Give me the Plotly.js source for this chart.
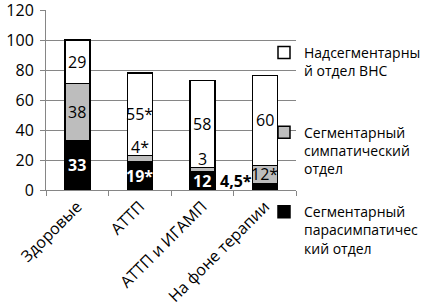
<!DOCTYPE html>
<html>
<head>
<meta charset="utf-8">
<script src="https://cdn.plot.ly/plotly-3.0.1.min.js"></script>
<style>html,body{margin:0;padding:0;background:#fff;}#chart{width:423px;height:308px;}</style>
</head>
<body>
<div id="chart"></div>
<script>
const categories = ['Здоровые', 'АТТП', 'АТТП и ИГАМП', 'На фоне терапии'];
const paraValues = [33, 19, 12, 4.5];
const sympValues = [38, 4, 3, 12];
const supraValues = [29, 55, 58, 60];
const paraLabels = ['33', '19*', '12', '4,5*'];
const sympLabels = ['38', '4*', '3', '12*'];
const supraLabels = ['29', '55*', '58', '60'];
const seriesNames = ['Сегментарный<br>парасимпатичес<br>кий отдел', 'Сегментарный<br>симпатический<br>отдел', 'Надсегментарны<br>й отдел ВНС<br> '];
const yTicks = [0, 20, 40, 60, 80, 100, 120];

const FONT = 'Open Sans, Noto Sans, sans-serif';
const outline = {color: '#000', width: 1.5};

const traces = [
  {type: 'bar', x: categories, y: paraValues, name: seriesNames[0], marker: {color: '#000000', line: outline}, legendrank: 3, legendgroup: 'a', hoverinfo: 'none'},
  {type: 'bar', x: categories, y: sympValues, name: seriesNames[1], marker: {color: '#BDBDBD', line: outline}, legendrank: 2, legendgroup: 'b', hoverinfo: 'none'},
  {type: 'bar', x: categories, y: supraValues, name: seriesNames[2], marker: {color: '#FFFFFF', line: outline}, legendrank: 1, legendgroup: 'c', hoverinfo: 'none'}
];

const LBL = 16;
const annotations = [];
categories.forEach((c, i) => {
  const p = paraValues[i], s = sympValues[i], u = supraValues[i];
  if (p >= 8) {
    annotations.push({x: c, y: p / 2, text: '<b>' + paraLabels[i] + '</b>', showarrow: false, font: {family: FONT, size: LBL, color: '#fff'}});
  } else {
    annotations.push({x: c, y: p, text: '<b>' + paraLabels[i] + '</b>', showarrow: false, xanchor: 'right', xshift: -11, yshift: 2, font: {family: FONT, size: LBL, color: '#000'}});
  }
  if (s >= 8) {
    annotations.push({x: c, y: p + s / 2, text: sympLabels[i], showarrow: false, font: {family: FONT, size: LBL, color: '#000'}});
  } else {
    annotations.push({x: c, y: p + s, text: sympLabels[i], showarrow: false, yanchor: 'bottom', yshift: -4, font: {family: FONT, size: LBL, color: '#000'}});
  }
  annotations.push({x: c, y: p + s + u / 2, text: supraLabels[i], showarrow: false, font: {family: FONT, size: LBL, color: '#000'}});
});

const layout = {
  width: 423, height: 308,
  margin: {l: 46, r: 127, t: 10, b: 118, autoexpand: false},
  paper_bgcolor: '#fff', plot_bgcolor: '#fff',
  barmode: 'stack', bargap: 0.6,
  font: {family: FONT, size: 16, color: '#000'},
  showlegend: true,
  legend: {x: 0.872, y: 0.85, xanchor: 'left', yanchor: 'top', bgcolor: 'rgba(255,255,255,0)', font: {family: FONT, size: 14, color: '#000'}, traceorder: 'grouped', tracegroupgap: 22, valign: 'top', itemwidth: 30, maxheight: 300},
  xaxis: {type: 'category', tickson: 'boundaries', ticks: 'outside', ticklen: 5, tickcolor: '#868686', showline: true, linecolor: '#868686', linewidth: 1, tickangle: -45, showgrid: false, tickfont: {family: FONT, size: 16}, fixedrange: true},
  yaxis: {range: [0, 120], tickvals: yTicks, ticks: 'outside', ticklen: 5, tickcolor: '#868686', showline: true, linecolor: '#868686', gridcolor: '#868686', gridwidth: 1, zeroline: false, tickfont: {family: FONT, size: 16}, ticklabelstandoff: 3, ticklabeloverflow: 'allow', fixedrange: true},
  annotations: annotations
};

Plotly.newPlot('chart', traces, layout, {staticPlot: true, displayModeBar: false});
</script>
</body>
</html>
